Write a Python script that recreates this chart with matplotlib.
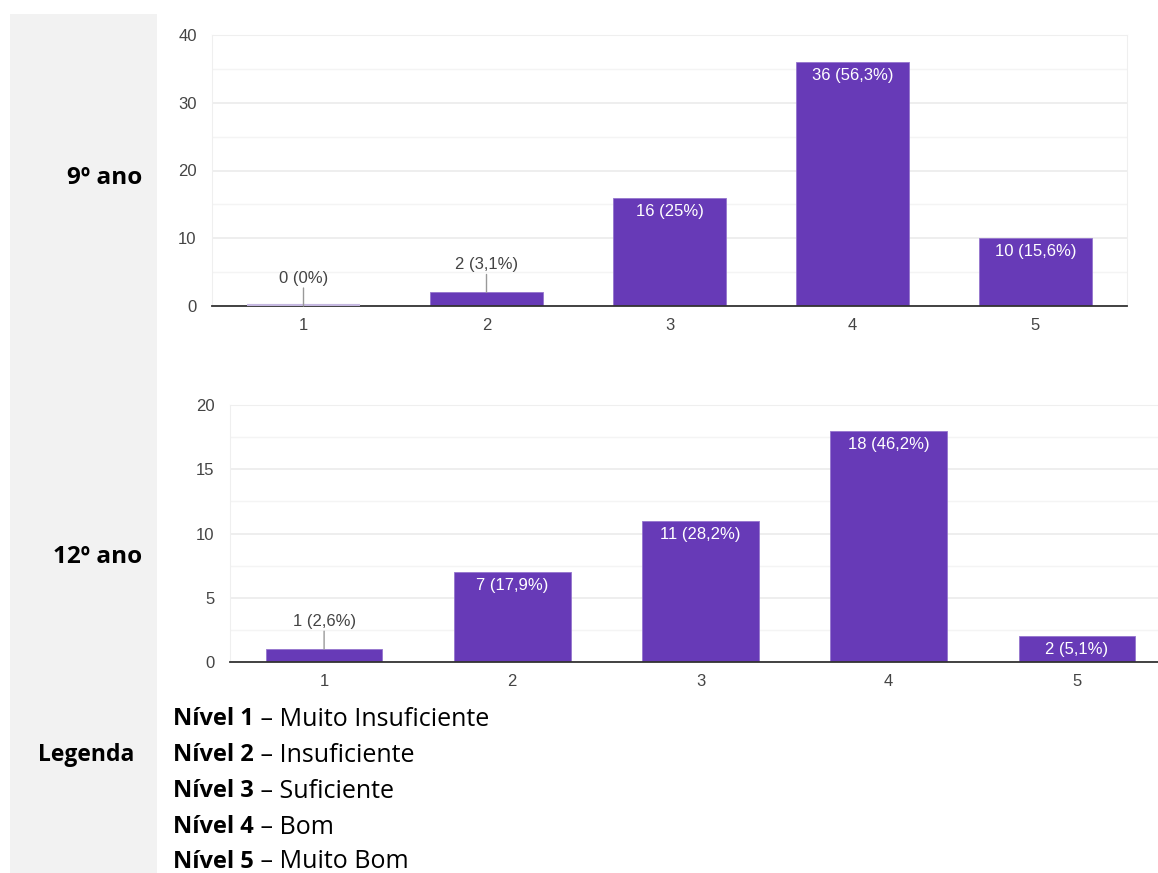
import matplotlib.pyplot as plt
from matplotlib.patches import Rectangle

# data
niveis = ['1', '2', '3', '4', '5']
ano9_vals = [0, 2, 16, 36, 10]
ano9_pct = ['0%', '3,1%', '25%', '56,3%', '15,6%']
ano12_vals = [1, 7, 11, 18, 2]
ano12_pct = ['2,6%', '17,9%', '28,2%', '46,2%', '5,1%']
legenda = [('Nível 1', 'Muito Insuficiente'),
           ('Nível 2', 'Insuficiente'),
           ('Nível 3', 'Suficiente'),
           ('Nível 4', 'Bom'),
           ('Nível 5', 'Muito Bom')]

W, H = 1158, 873
PURPLE = '#673ab7'
TXT = '#444444'
CHART_FONT = 'Liberation Sans'


def px_axes(fig, left, top, right, bottom):
    return fig.add_axes([left / W, (H - bottom) / H, (right - left) / W, (bottom - top) / H])


def draw_bars(ax, vals, pcts, ymax, step, height_px):
    x = range(len(vals))
    ax.bar(x, vals, width=0.62, color=PURPLE, edgecolor='#9575cd', linewidth=0.6, zorder=3)
    for i, v in enumerate(vals):
        if v == 0:
            ax.plot([i - 0.31, i + 0.31], [0, 0], color='#c5b8e0', lw=3, zorder=5,
                    solid_capstyle='butt')
    ax.set_xlim(-0.5, len(vals) - 0.5)
    ax.set_ylim(0, ymax)
    ax.set_yticks(range(0, ymax + 1, step))
    ax.set_yticks([s + step / 2 for s in range(0, ymax, step)], minor=True)
    ax.set_xticks(list(x))
    ax.set_xticklabels(niveis)
    ax.grid(True, which='major', axis='y', color='#ebebeb', lw=1.2, zorder=0)
    ax.grid(True, which='minor', axis='y', color='#f4f4f4', lw=1.0, zorder=0)
    ax.tick_params(which='both', length=0, labelsize=12, labelcolor=TXT,
                   labelfontfamily=CHART_FONT)
    ax.tick_params(axis='x', pad=9)
    ax.tick_params(axis='y', pad=11)
    for s in ['top', 'left', 'right']:
        ax.spines[s].set_color('#efefef')
    ax.spines['bottom'].set_color('#333333')
    ax.spines['bottom'].set_linewidth(1.3)
    ax.spines['bottom'].set_zorder(4)
    for i, (v, p) in enumerate(zip(vals, pcts)):
        lab = f'{v} ({p})'
        if v / ymax * height_px > 20:
            ax.annotate(lab, (i, v), xytext=(0, -6), textcoords='offset pixels',
                        ha='center', va='top', color='white', fontsize=12,
                        family=CHART_FONT, zorder=5)
        else:
            ax.annotate(lab, (i, v), xytext=(0, 20), textcoords='offset pixels',
                        ha='center', va='bottom', color=TXT, fontsize=12,
                        family=CHART_FONT, zorder=5)
            ax.annotate('', (i, v), xytext=(0, 18), textcoords='offset pixels',
                        arrowprops=dict(arrowstyle='-', color='#999999', lw=1,
                                        shrinkA=0, shrinkB=0), zorder=5)


fig = plt.figure(figsize=(W / 100, H / 100), dpi=100)
fig.patches.append(Rectangle((10 / W, 0), 147 / W, (H - 14) / H, transform=fig.transFigure,
                             facecolor='#f2f2f2', edgecolor='none', zorder=0))

ax1 = px_axes(fig, 212, 35, 1127, 306)
draw_bars(ax1, ano9_vals, ano9_pct, 40, 10, 271)

ax2 = px_axes(fig, 230, 405, 1171, 662)
draw_bars(ax2, ano12_vals, ano12_pct, 20, 5, 257)

fnt = 'Open Sans'
fig.text(142 / W, 1 - 178 / H, '9º ano', ha='right', va='center', fontsize=17.5,
         fontweight='bold', family=fnt)
fig.text(142 / W, 1 - 557 / H, '12º ano', ha='right', va='center', fontsize=17.5,
         fontweight='bold', family=fnt)
fig.text(134 / W, 1 - 755 / H, 'Legenda', ha='right', va='center', fontsize=16.5,
         fontweight='bold', family=fnt)

ys = [719, 755, 791, 827, 862]
for (nv, desc), y in zip(legenda, ys):
    t = fig.text(173 / W, 1 - y / H, nv, ha='left', va='center', fontsize=17,
                 fontweight='bold', family=fnt)
    fig.canvas.draw()
    bb = t.get_window_extent()
    fig.text(bb.x1 / W, 1 - y / H, ' – ' + desc, ha='left', va='center', fontsize=18,
             family=fnt)

fig.savefig('out.png', dpi=100)
